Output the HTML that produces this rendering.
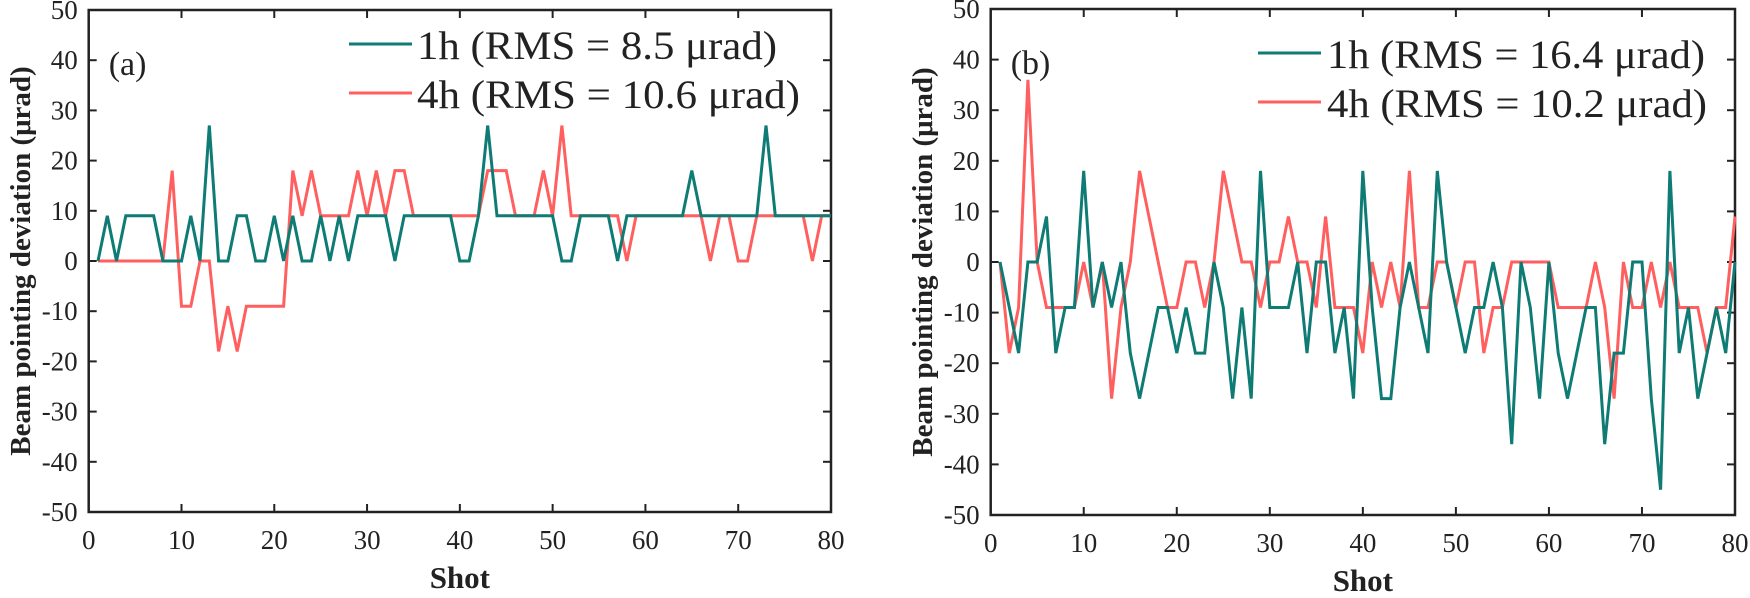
<!DOCTYPE html>
<html><head><meta charset="utf-8"><style>
body{margin:0;background:#fff;width:1750px;height:593px;overflow:hidden}
svg text{font-family:"Liberation Serif",serif;fill:#222}
</style></head><body>
<svg id="s" width="1750" height="593" xmlns="http://www.w3.org/2000/svg"></svg>
<script>
const S=document.getElementById('s');
let h='';
function panel(L,R,T,B,teal,red,lab,l1,l2,lx1,lx2,ly1,ly2,tx,te1,te2,b1,b2,ylab){
  const sx=i=>L+(R-L)*i/80, sy=v=>T+(B-T)*(50-v)/100;
  h+=`<rect x="${L}" y="${T}" width="${R-L}" height="${B-T}" fill="none" stroke="#222" stroke-width="2.5"/>`;
  for(let i=0;i<=80;i+=10){const x=sx(i);
    if(i>0&&i<80){h+=`<line x1="${x}" y1="${B}" x2="${x}" y2="${B-8}" stroke="#222" stroke-width="2"/><line x1="${x}" y1="${T}" x2="${x}" y2="${T+8}" stroke="#222" stroke-width="2"/>`;}
    h+=`<text x="${x}" y="${B+37}" font-size="27" text-anchor="middle">${i}</text>`;}
  for(let v=-50;v<=50;v+=10){const y=sy(v);
    if(v>-50&&v<50){h+=`<line x1="${L}" y1="${y}" x2="${L+8}" y2="${y}" stroke="#222" stroke-width="2"/><line x1="${R}" y1="${y}" x2="${R-8}" y2="${y}" stroke="#222" stroke-width="2"/>`;}
    h+=`<text x="${L-11}" y="${y+9}" font-size="27" text-anchor="end">${v}</text>`;}
  const pl=(d,c)=>{h+=`<polyline fill="none" stroke="${c}" stroke-width="3" stroke-linejoin="miter" points="${d.map((v,k)=>sx(k+1).toFixed(1)+','+sy(v).toFixed(1)).join(' ')}"/>`;};
  pl(red,'#ff5f5f');pl(teal,'#0e7b74');
  h+=`<text x="${L+20}" y="${T+65}" font-size="34">${lab}</text>`;
  h+=`<line x1="${lx1}" y1="${ly1}" x2="${lx2}" y2="${ly1}" stroke="#0e7b74" stroke-width="3"/>`;
  h+=`<line x1="${lx1}" y1="${ly2}" x2="${lx2}" y2="${ly2}" stroke="#ff5f5f" stroke-width="3"/>`;
  h+=`<text x="${tx}" y="${b1}" font-size="40" textLength="${te1-tx}" lengthAdjust="spacingAndGlyphs">${l1}</text>`;
  h+=`<text x="${tx}" y="${b2}" font-size="40" textLength="${te2-tx}" lengthAdjust="spacingAndGlyphs">${l2}</text>`;
  h+=`<text x="${(L+R)/2}" y="${B+76}" font-size="31" font-weight="bold" text-anchor="middle">Shot</text>`;
  h+=`<text transform="translate(${ylab},${(T+B)/2}) rotate(-90)" font-size="29" font-weight="bold" text-anchor="middle">Beam pointing deviation (μrad)</text>`;
}
const t1=[0,9,0,9,9,9,9,0,0,0,9,0,27,0,0,9,9,0,0,9,0,9,0,0,9,0,9,0,9,9,9,9,0,9,9,9,9,9,9,0,0,9,27,9,9,9,9,9,9,9,0,0,9,9,9,9,0,9,9,9,9,9,9,9,18,9,9,9,9,9,9,9,27,9,9,9,9,9,9,9];
const r1=[0,0,0,0,0,0,0,0,18,-9,-9,0,0,-18,-9,-18,-9,-9,-9,-9,-9,18,9,18,9,9,9,9,18,9,18,9,18,18,9,9,9,9,9,9,9,9,18,18,18,9,9,9,18,9,27,9,9,9,9,9,9,0,9,9,9,9,9,9,9,9,0,9,9,0,0,9,9,9,9,9,9,0,9,9];
const t2=[0,-9,-18,0,0,9,-18,-9,-9,18,-9,0,-9,0,-18,-27,-18,-9,-9,-18,-9,-18,-18,0,-9,-27,-9,-27,18,-9,-9,-9,0,-18,0,0,-18,-9,-27,18,-9,-27,-27,-9,0,-9,-18,18,0,-9,-18,-9,-9,0,-9,-36,0,-9,-27,0,-18,-27,-18,-9,-9,-36,-18,-18,0,0,-27,-45,18,-18,-9,-27,-18,-9,-18,0];
const r2=[0,-18,-9,36,0,-9,-9,-9,-9,0,-9,0,-27,-9,0,18,9,0,-9,-9,0,0,-9,0,18,9,0,0,-9,0,0,9,0,0,-9,9,-9,-9,-9,-18,0,-9,0,-9,18,-9,-9,0,0,-9,0,0,-18,-9,-9,0,0,0,0,0,-9,-9,-9,-9,0,-9,-27,0,-9,-9,0,-9,0,-9,-9,-9,-18,-9,-9,9];
panel(88.7,831,10,512,t1,r1,'(a)','1h (RMS = 8.5  μrad)','4h (RMS = 10.6  μrad)',349,412,44,93,417,777,800,59,108,30);
panel(990.7,1735,9,515,t2,r2,'(b)','1h (RMS = 16.4  μrad)','4h (RMS = 10.2  μrad)',1258,1321,53,102,1327,1705,1707,68,117,932);
S.innerHTML=h;
</script>
</body></html>
